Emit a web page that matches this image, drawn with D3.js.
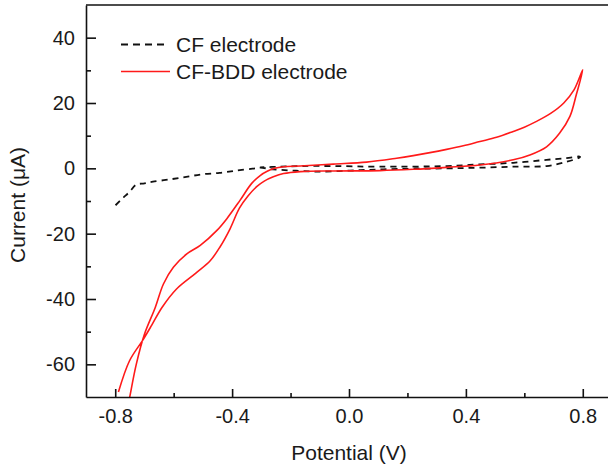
<!DOCTYPE html>
<html>
<head>
<meta charset="utf-8">
<script src="https://cdn.jsdelivr.net/npm/d3@7"></script>
<style>
  html, body { margin: 0; padding: 0; background: #fff; }
  svg { display: block; }
  text { font-family: "Liberation Sans", Arial, sans-serif; fill: #1a1a1a; }
</style>
</head>
<body>
<div id="chart"></div>
<script>
// CV curves: [potential (V), current (uA)]
const bddInner = [
  [-0.789, -68.5], [-0.751, -58.9], [-0.705, -52.5], [-0.675, -48.0], [-0.640, -42.6],
  [-0.591, -37.0], [-0.523, -32.0], [-0.475, -28.3], [-0.441, -24.0], [-0.407, -18.5],
  [-0.375, -12.2], [-0.345, -8.4], [-0.316, -5.6], [-0.290, -3.9], [-0.259, -2.6],
  [-0.224, -1.6], [-0.167, -1.0], [-0.054, -0.8], [0.106, -0.7], [0.220, -0.3],
  [0.334, 0.3], [0.448, 1.0], [0.562, 2.6], [0.619, 4.1], [0.676, 6.6],
  [0.721, 10.8], [0.756, 15.9], [0.778, 22.6], [0.800, 30.2]
];
const bddOuter = [
  [0.800, 30.2], [0.770, 24.0], [0.735, 20.0], [0.690, 16.8], [0.640, 14.3],
  [0.600, 12.6], [0.562, 11.3], [0.505, 9.5], [0.448, 8.2], [0.391, 6.9],
  [0.334, 5.8], [0.277, 4.8], [0.220, 3.9], [0.163, 3.1], [0.060, 1.9],
  [-0.054, 1.3], [-0.167, 0.7], [-0.224, 0.5], [-0.255, 0.0], [-0.280, -0.9],
  [-0.304, -2.2], [-0.333, -4.6], [-0.373, -9.8], [-0.418, -15.4], [-0.452, -19.0],
  [-0.509, -23.6], [-0.555, -26.2], [-0.601, -30.3], [-0.635, -35.4], [-0.663, -42.6],
  [-0.700, -50.8], [-0.728, -60.0], [-0.751, -70.3], [-0.757, -73.0]
];
const cfForward = [
  [-0.799, -11.3], [-0.775, -9.2], [-0.751, -7.2], [-0.728, -5.0], [-0.700, -4.6],
  [-0.671, -4.1], [-0.614, -3.4], [-0.557, -2.6], [-0.500, -1.8], [-0.443, -1.4],
  [-0.387, -0.7], [-0.330, -0.1], [-0.304, 0.2], [-0.260, -0.3], [-0.190, -0.7],
  [-0.110, -1.0], [0.003, -0.7], [0.117, -0.3], [0.334, 0.0], [0.448, 0.2],
  [0.562, 0.5], [0.676, 0.7], [0.744, 2.0], [0.790, 3.4]
];
const cfReturn = [
  [0.790, 3.6], [0.744, 3.1], [0.676, 2.6], [0.562, 1.7], [0.448, 1.2],
  [0.334, 0.7], [0.106, 0.5], [-0.054, 0.7], [-0.167, 0.7], [-0.236, 0.5],
  [-0.304, 0.3]
];

const xMajor = [-0.8, -0.4, 0.0, 0.4, 0.8];
const xMinor = [-0.6, -0.2, 0.2, 0.6];
const yMajor = [-60, -40, -20, 0, 20, 40];
const yMinor = [-50, -30, -10, 10, 30];

const legendItems = ["CF electrode", "CF-BDD electrode"];

const W = 608, H = 465;
const plotLeft = 86, plotTop = 5, plotBottom = 397, plotRight = 612;
const tickFont = 20;
const titleFont = 21;

const x = d3.scaleLinear().domain([-0.9, 0.9]).range([plotLeft, plotRight]);
const y = d3.scaleLinear().domain([-70, 50]).range([plotBottom, plotTop]);

const svg = d3.select("#chart").append("svg")
  .attr("width", W)
  .attr("height", H);

svg.append("rect").attr("width", W).attr("height", H).attr("fill", "#fff");

svg.append("defs").append("clipPath").attr("id", "plot-clip")
  .append("rect")
  .attr("x", plotLeft).attr("y", plotTop)
  .attr("width", plotRight - plotLeft).attr("height", plotBottom - plotTop);

const line = d3.line()
  .x((d) => x(d[0]))
  .y((d) => y(d[1]))
  .curve(d3.curveCatmullRom.alpha(0.5));

const plot = svg.append("g").attr("clip-path", "url(#plot-clip)");

plot.append("path")
  .attr("d", line(cfForward.concat(cfReturn)))
  .attr("fill", "none")
  .attr("stroke", "#111")
  .attr("stroke-width", 1.8)
  .attr("stroke-dasharray", "6,5");

plot.append("path")
  .attr("d", line(bddInner.concat(bddOuter.slice(1))))
  .attr("fill", "none")
  .attr("stroke", "#ff1a1a")
  .attr("stroke-width", 1.6);

// axes
function styleAxis(g) {
  g.selectAll("path, line").attr("stroke", "#111").attr("stroke-width", 1.6);
  g.selectAll("text")
    .attr("font-size", tickFont)
    .attr("fill", "#1a1a1a")
    .style("font-family", '"Liberation Sans", Arial, sans-serif');
}

const fmtX = (d) => d.toFixed(1);
const fmtY = (d) => String(d);

svg.append("g")
  .attr("transform", `translate(0,${plotBottom})`)
  .call(d3.axisBottom(x).tickValues(xMajor).tickFormat(fmtX)
    .tickSizeInner(-8).tickSizeOuter(0).tickPadding(12))
  .call(styleAxis);

svg.append("g")
  .attr("transform", `translate(0,${plotBottom})`)
  .call(d3.axisBottom(x).tickValues(xMinor).tickFormat("")
    .tickSizeInner(-4).tickSizeOuter(0))
  .call((g) => g.select(".domain").remove())
  .call(styleAxis);

svg.append("g")
  .attr("transform", `translate(${plotLeft},0)`)
  .call(d3.axisLeft(y).tickValues(yMajor).tickFormat(fmtY)
    .tickSizeInner(-10).tickSizeOuter(0).tickPadding(11))
  .call(styleAxis);

svg.append("g")
  .attr("transform", `translate(${plotLeft},0)`)
  .call(d3.axisLeft(y).tickValues(yMinor).tickFormat("")
    .tickSizeInner(-5).tickSizeOuter(0))
  .call((g) => g.select(".domain").remove())
  .call(styleAxis);

// top frame line
svg.append("line")
  .attr("x1", plotLeft).attr("x2", plotRight)
  .attr("y1", plotTop).attr("y2", plotTop)
  .attr("stroke", "#111").attr("stroke-width", 1.6);

// axis titles
svg.append("text")
  .attr("x", 349).attr("y", 460)
  .attr("text-anchor", "middle")
  .attr("font-size", titleFont)
  .text("Potential (V)");

svg.append("text")
  .attr("transform", "translate(25,205) rotate(-90)")
  .attr("text-anchor", "middle")
  .attr("font-size", titleFont)
  .text("Current (\u03bcA)");

// legend
const legend = svg.append("g");
legend.append("line")
  .attr("x1", 121).attr("x2", 167).attr("y1", 44.5).attr("y2", 44.5)
  .attr("stroke", "#111").attr("stroke-width", 1.8).attr("stroke-dasharray", "7,5");
legend.append("line")
  .attr("x1", 121).attr("x2", 170).attr("y1", 71.5).attr("y2", 71.5)
  .attr("stroke", "#ff1a1a").attr("stroke-width", 1.6);
legend.selectAll("text.leg")
  .data(legendItems)
  .enter()
  .append("text")
  .attr("class", "leg")
  .attr("x", 176)
  .attr("y", (d, i) => 52 + i * 27)
  .attr("font-size", titleFont)
  .text((d) => d);
</script>
</body>
</html>
